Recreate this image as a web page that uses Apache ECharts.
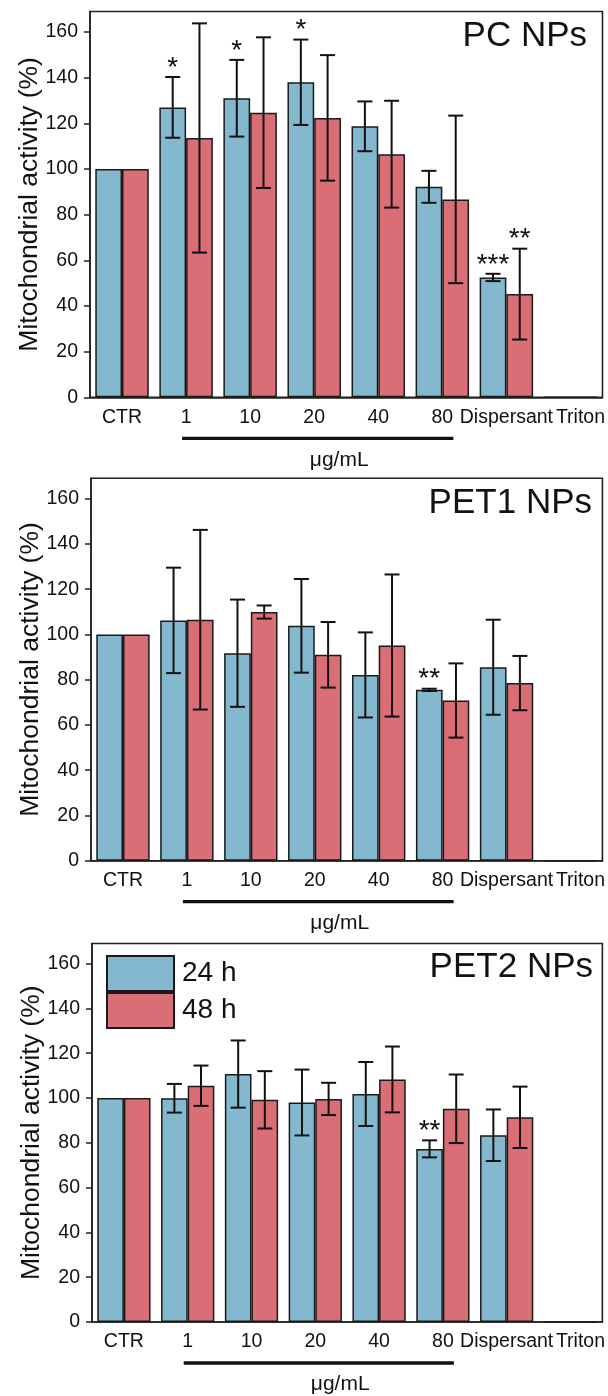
<!DOCTYPE html>
<html>
<head>
<meta charset="utf-8">
<script src="https://cdn.jsdelivr.net/npm/echarts@6/dist/echarts.min.js"></script>
<style>
html,body{margin:0;padding:0;background:#fff;}
#chart{width:608px;height:1396px;}
</style>
</head>
<body>
<div id="chart"></div>
<script>
// ---------- data ----------
const categories = ['CTR', '1', '10', '20', '40', '80', 'Dispersant', 'Triton'];
const yTicks = [0, 20, 40, 60, 80, 100, 120, 140, 160];
const panelTitles = ['PC NPs', 'PET1 NPs', 'PET2 NPs'];
const seriesNames = ['24 h', '48 h'];

// PC NPs
const pc24 = [100, 127, 131, 138, 118.7, 92.2, 52.5, 0];
const pc24sd = [0, 13.3, 16.8, 18.7, 10.9, 7.0, 1.6, 0];
const pc24sig = ['', '*', '*', '*', '', '', '***', ''];
const pc48 = [100, 113.6, 124.7, 122.4, 106.5, 86.7, 45.2, 0];
const pc48sd = [0, 50.2, 33.0, 27.5, 23.4, 36.7, 19.9, 0];
const pc48sig = ['', '', '', '', '', '', '**', ''];

// PET1 NPs
const pet1_24 = [100, 106.2, 91.7, 103.8, 82.1, 75.5, 85.5, 0];
const pet1_24sd = [0, 23.3, 23.7, 20.7, 18.8, 0.5, 21.0, 0];
const pet1_24sig = ['', '', '', '', '', '**', '', ''];
const pet1_48 = [100, 106.5, 109.9, 91.0, 95.1, 70.8, 78.5, 0];
const pet1_48sd = [0, 39.7, 2.9, 14.5, 31.4, 16.4, 12.0, 0];
const pet1_48sig = ['', '', '', '', '', '', '', ''];

// PET2 NPs
const pet2_24 = [100, 99.9, 110.7, 98.0, 101.8, 77.3, 83.4, 0];
const pet2_24sd = [0, 6.4, 15.0, 14.7, 14.3, 3.8, 11.5, 0];
const pet2_24sig = ['', '', '', '', '', '**', '', ''];
const pet2_48 = [100, 105.5, 99.2, 99.6, 108.3, 95.2, 91.4, 0];
const pet2_48sd = [0, 9.0, 12.8, 7.2, 14.7, 15.3, 13.7, 0];
const pet2_48sig = ['', '', '', '', '', '', '', ''];

// ---------- style ----------
const FONT = '"Liberation Sans", Arial, sans-serif';
const C24 = '#84b8ce';
const C48 = '#d96e77';
const EDGE = '#1a1a1a';
const GAP = 0.165;

const panels = [
  {title: panelTitles[0], s24: pc24, sd24: pc24sd, sig24: pc24sig, s48: pc48, sd48: pc48sd, sig48: pc48sig},
  {title: panelTitles[1], s24: pet1_24, sd24: pet1_24sd, sig24: pet1_24sig, s48: pet1_48, sd48: pet1_48sd, sig48: pet1_48sig},
  {title: panelTitles[2], s24: pet2_24, sd24: pet2_24sd, sig24: pet2_24sig, s48: pet2_48, sd48: pet2_48sd, sig48: pet2_48sig}
];

const grids = [
  {left: 90, top: 11.5, right: 5.5, height: 385.8},
  {left: 91, top: 478.3, right: 5, height: 382.4},
  {left: 92, top: 943.5, right: 5, height: 382.2}
];
const titlePos = [
  {right: 21, top: 19},
  {right: 16, top: 486},
  {right: 15, top: 950}
];

const chart = echarts.init(document.getElementById('chart'), null, {renderer: 'canvas'});

function errRender(means, sds, sigs, side) {
  return function (params, api) {
    const i = params.dataIndex;
    const m = means[i], sd = sds[i], sig = sigs[i];
    const band = api.size([1, 0])[0];
    const barW = band * (1 - GAP) / 2;
    const off = side * barW / 2;
    const c = api.coord([i, m]);
    const x = c[0] + off;
    const children = [];
    let topY = c[1];
    if (sd > 0) {
      const t = api.coord([i, m + sd])[1];
      const b = api.coord([i, m - sd])[1];
      topY = t;
      const cw = 7.5;
      const st = {stroke: '#111', lineWidth: 2};
      children.push({type: 'line', shape: {x1: x, y1: t, x2: x, y2: b}, style: st});
      children.push({type: 'line', shape: {x1: x - cw, y1: t, x2: x + cw, y2: t}, style: st});
      children.push({type: 'line', shape: {x1: x - cw, y1: b, x2: x + cw, y2: b}, style: st});
    }
    if (sig) {
      children.push({
        type: 'text',
        style: {text: sig, x: x, y: topY + 5, align: 'center', verticalAlign: 'bottom',
                font: '28px ' + FONT, fill: '#111'}
      });
    }
    return {type: 'group', children: children};
  };
}

const axisCats = categories.map(c => c === 'Triton'
  ? {value: c, textStyle: {padding: [0, 0, 0, 20]}}
  : c);

const option = {
  animation: false,
  backgroundColor: '#fff',
  title: panels.map((p, k) => ({
    text: p.title, right: titlePos[k].right, top: titlePos[k].top, padding: 0,
    textStyle: {fontFamily: FONT, fontSize: 35, fontWeight: 'normal', color: '#111'}
  })),
  legend: {
    data: seriesNames, orient: 'vertical', left: 106, top: 955, padding: 0,
    itemWidth: 67, itemHeight: 35, itemGap: 0, icon: 'rect',
    textStyle: {fontFamily: FONT, fontSize: 28, color: '#111', padding: [0, 0, 0, 3]}
  },
  grid: grids.map(g => Object.assign({show: true, borderColor: '#222', borderWidth: 1.6, backgroundColor: 'transparent'}, g)),
  xAxis: grids.map((g, k) => ({
    type: 'category', gridIndex: k, data: axisCats,
    axisLine: {lineStyle: {color: '#222', width: 1.6}},
    axisTick: {alignWithLabel: true, length: 5, lineStyle: {color: '#222', width: 1.5}},
    axisLabel: {interval: 0, fontFamily: FONT, fontSize: 19.5, color: '#111', margin: 10},
    name: 'μg/mL', nameLocation: 'middle', nameGap: 52, nameMoveOverlap: false,
    nameTextStyle: {fontFamily: FONT, fontSize: 21, color: '#111', padding: [0, 14, 0, 0]}
  })),
  yAxis: grids.map((g, k) => ({
    type: 'value', gridIndex: k, min: 0, max: 169, interval: 20,
    splitLine: {show: false},
    axisLine: {show: true, lineStyle: {color: '#222', width: 1.6}},
    axisTick: {show: true, length: 6, customValues: yTicks, lineStyle: {color: '#222', width: 1.5}},
    axisLabel: {customValues: yTicks, fontFamily: FONT, fontSize: 19.5, color: '#111', margin: 12},
    name: 'Mitochondrial activity (%)', nameLocation: 'middle', nameGap: 47, nameMoveOverlap: false,
    nameTextStyle: {fontFamily: FONT, fontSize: 26.5, color: '#111'}
  })),
  series: []
};

panels.forEach((p, k) => {
  option.series.push({
    name: seriesNames[0], type: 'bar', xAxisIndex: k, yAxisIndex: k, data: p.s24,
    barGap: '0%', barCategoryGap: (GAP * 100) + '%',
    itemStyle: {color: C24, borderColor: EDGE, borderWidth: 1.5}
  });
  option.series.push({
    name: seriesNames[1], type: 'bar', xAxisIndex: k, yAxisIndex: k, data: p.s48,
    barGap: '0%', barCategoryGap: (GAP * 100) + '%',
    itemStyle: {color: C48, borderColor: EDGE, borderWidth: 1.5}
  });
  option.series.push({
    type: 'custom', xAxisIndex: k, yAxisIndex: k, z: 5, silent: true,
    data: p.s24.map((v, i) => [i, v]),
    encode: {x: 0, y: 1},
    renderItem: errRender(p.s24, p.sd24, p.sig24, -1)
  });
  option.series.push({
    type: 'custom', xAxisIndex: k, yAxisIndex: k, z: 5, silent: true,
    data: p.s48.map((v, i) => [i, v]),
    encode: {x: 0, y: 1},
    renderItem: errRender(p.s48, p.sd48, p.sig48, 1)
  });
});

chart.setOption(option);

// underline spanning the concentration categories
const graphics = [];
grids.forEach((g, k) => {
  const x1 = chart.convertToPixel({xAxisIndex: k}, categories[1]) - 4;
  const x2 = chart.convertToPixel({xAxisIndex: k}, categories[5]) + 11;
  const y0 = chart.convertToPixel({yAxisIndex: k}, 0) + 41;
  graphics.push({type: 'line', shape: {x1: x1, y1: y0, x2: x2, y2: y0},
                 style: {stroke: '#111', lineWidth: 3.3}, silent: true});
});
chart.setOption({graphic: graphics});
</script>
</body>
</html>
